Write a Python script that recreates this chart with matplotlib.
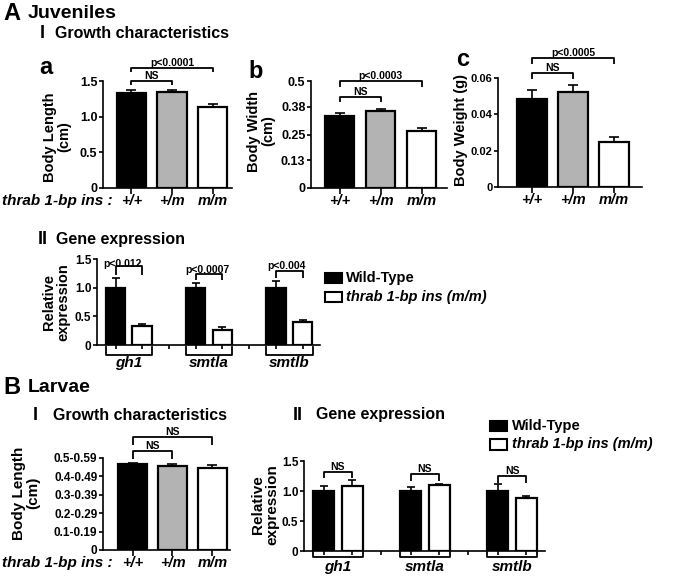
import matplotlib
matplotlib.use("Agg")
import matplotlib.pyplot as plt
from matplotlib.patches import Rectangle
import numpy as np

plt.rcParams["font.family"] = ["Liberation Sans", "DejaVu Sans"]
plt.rcParams["font.weight"] = "bold"
plt.rcParams["axes.linewidth"] = 1.2

W, H = 675, 580

# ---- data ----
genotypes = ["+/+", "+/m", "m/m"]
genotype_colors = ["black", "#b3b3b3", "white"]
genes = ["gh1", "smtla", "smtlb"]
legend_labels = ["Wild-Type", "thrab 1-bp ins (m/m)"]

juv_length = [1.33, 1.34, 1.14]
juv_length_err = [0.045, 0.03, 0.035]
juv_width = [0.338, 0.361, 0.268]
juv_width_err = [0.011, 0.010, 0.011]
juv_weight = [0.0483, 0.0521, 0.0248]
juv_weight_err = [0.0049, 0.0040, 0.0029]

juv_wt_expr = [1.0, 1.0, 1.0]
juv_wt_expr_err = [0.16, 0.09, 0.12]
juv_mut_expr = [0.33, 0.27, 0.40]
juv_mut_expr_err = [0.04, 0.04, 0.03]
juv_expr_p = ["p<0.012", "p<0.0007", "p<0.004"]

larv_length = [0.465, 0.459, 0.448]
larv_length_err = [0.007, 0.007, 0.016]
larv_length_ticks = [0, 0.1, 0.2, 0.3, 0.4, 0.5]
larv_length_ticklabels = ["0", "0.1-0.19", "0.2-0.29", "0.3-0.39", "0.4-0.49", "0.5-0.59"]

larv_wt_expr = [1.0, 1.0, 1.0]
larv_wt_expr_err = [0.08, 0.07, 0.11]
larv_mut_expr = [1.08, 1.10, 0.89]
larv_mut_expr_err = [0.11, 0.02, 0.02]

fig = plt.figure(figsize=(W / 100, H / 100), dpi=100)


def px_axes(x0, x1, y_top, y_bot):
    return fig.add_axes([x0 / W, 1 - y_bot / H, (x1 - x0) / W, (y_bot - y_top) / H])


def ftext(x, y, s, **kw):
    fig.text(x / W, 1 - y / H, s, **kw)


def fbox(x, y_top, w, h, color):
    fig.add_artist(Rectangle((x / W, 1 - (y_top + h) / H), w / W, h / H,
                             transform=fig.transFigure, facecolor=color,
                             edgecolor="black", linewidth=1.5))


def style_axes(ax, fs):
    for side in ("top", "right"):
        ax.spines[side].set_visible(False)
    ax.tick_params(axis="both", direction="out", length=3, width=1.2,
                   labelsize=fs, pad=1)


def bracket(ax, x1, x2, y, leg, label, fs=7.5, dx=0.0, dy=0.0, va="bottom"):
    ax.plot([x1, x1, x2, x2], [y - leg, y, y, y - leg], color="black",
            lw=1.3, clip_on=False, solid_capstyle="butt")
    ax.text((x1 + x2) / 2 + dx, y + dy, label, ha="center", va=va,
            fontsize=fs, clip_on=False)


def genotype_panel(ax, means, errs, xlim, ylim, fs):
    x = np.arange(len(means))
    ax.bar(x, means, width=0.72, color=genotype_colors, edgecolor="black",
           linewidth=1.6, zorder=2)
    ax.errorbar(x, means, yerr=[np.zeros(len(errs)), errs], fmt="none",
                ecolor="black", elinewidth=1.2, capsize=3.5, capthick=1.2, zorder=3)
    ax.set_xlim(*xlim)
    ax.set_ylim(*ylim)
    style_axes(ax, fs)
    ax.tick_params(axis="x", length=4, pad=0)
    ax.set_xticks(x)
    ax.set_xticklabels(genotypes, fontstyle="italic", fontsize=10.5)


def expression_panel(ax, wt, wt_err, mut, mut_err, xlim, under_y, label_y):
    g = np.arange(len(wt))
    off, w = 0.165, 0.24
    ax.bar(g - off, wt, width=w, color="black", edgecolor="black", linewidth=1.6, zorder=2)
    ax.bar(g + off, mut, width=w, color="white", edgecolor="black", linewidth=1.6, zorder=2)
    ax.errorbar(g - off, wt, yerr=[np.zeros(len(wt)), wt_err], fmt="none",
                ecolor="black", elinewidth=1.2, capsize=3, capthick=1.2, zorder=3)
    ax.errorbar(g + off, mut, yerr=[np.zeros(len(mut)), mut_err], fmt="none",
                ecolor="black", elinewidth=1.2, capsize=3, capthick=1.2, zorder=3)
    ax.set_xlim(*xlim)
    ax.set_ylim(0, 1.5)
    ax.set_yticks([0, 0.5, 1.0, 1.5])
    ax.set_yticklabels(["0", "0.5", "1.0", "1.5"])
    ax.set_xticks(np.concatenate([g - off, g + off, g[:-1] + 0.5]))
    ax.set_xticklabels([])
    style_axes(ax, 8.5)
    for i, gene in enumerate(genes):
        ax.plot([i - 0.29, i - 0.29, i + 0.29, i + 0.29],
                [under_y[0], under_y[1], under_y[1], under_y[0]],
                color="black", lw=1.3, clip_on=False)
        ax.text(i, label_y, gene, ha="center", va="center", fontsize=11,
                fontstyle="italic", clip_on=False)


# ---- section headers ----
ftext(3, 14, "A", fontsize=17, va="center")
ftext(28, 13, "Juveniles", fontsize=14, va="center")
ftext(40, 34, "I", fontsize=13, va="center")
ftext(55, 34, "Growth characteristics", fontsize=11.5, va="center")
ftext(38, 240, "II", fontsize=13, va="center")
ftext(56, 240, "Gene expression", fontsize=11.5, va="center")

ftext(3, 388, "B", fontsize=17, va="center")
ftext(28, 388, "Larvae", fontsize=14, va="center")
ftext(33, 415, "I", fontsize=13, va="center")
ftext(53, 415, "Growth characteristics", fontsize=11.5, va="center")
ftext(293, 415, "II", fontsize=13, va="center")
ftext(316, 415, "Gene expression", fontsize=11.5, va="center")

# ---- A-I a: body length ----
ax_a = px_axes(103, 232, 81, 188)
genotype_panel(ax_a, juv_length, juv_length_err, (-0.70, 2.48), (0, 1.5), 9)
ax_a.set_yticks([0, 0.5, 1.0, 1.5])
ax_a.set_yticklabels(["0", "0.5", "1.0", "1.5"])
bracket(ax_a, 0, 1, 1.505, 0.06, "NS")
bracket(ax_a, 0, 2, 1.68, 0.06, "p<0.0001")
ftext(46, 67, "a", fontsize=17, ha="center", va="center")
ftext(57, 137, "Body Length\n(cm)", fontsize=10.5, rotation=90,
      ha="center", va="center", linespacing=1.0)
ftext(2, 201, "thrab 1-bp ins :", fontsize=11, fontstyle="italic", va="center")

# ---- A-I b: body width ----
ax_b = px_axes(311, 447, 81, 188)
genotype_panel(ax_b, juv_width, juv_width_err, (-0.70, 2.62), (0, 0.5), 9)
ax_b.set_yticks([0, 0.13, 0.25, 0.38, 0.5])
ax_b.set_yticklabels(["0", "0.13", "0.25", "0.38", "0.5"])
bracket(ax_b, 0, 1, 0.427, 0.025, "NS")
bracket(ax_b, 0, 2, 0.50, 0.03, "p<0.0003")
ftext(256, 71, "b", fontsize=17, ha="center", va="center")
ftext(261, 131, "Body Width\n(cm)", fontsize=10.5, rotation=90,
      ha="center", va="center", linespacing=1.0)

# ---- A-I c: body weight ----
ax_c = px_axes(498, 642, 78, 187)
genotype_panel(ax_c, juv_weight, juv_weight_err, (-0.83, 2.68), (0, 0.06), 8)
ax_c.set_yticks([0, 0.02, 0.04, 0.06])
ax_c.set_yticklabels(["0", "0.02", "0.04", "0.06"])
bracket(ax_c, 0, 1, 0.0629, 0.0035, "NS")
bracket(ax_c, 0, 2, 0.0708, 0.0033, "p<0.0005")
ftext(463, 60, "c", fontsize=17, ha="center", va="center")
ftext(461, 130, "Body Weight (g)", fontsize=10.5, rotation=90,
      ha="center", va="center")

# ---- A-II gene expression ----
ax_e = px_axes(97, 320, 259, 345)
expression_panel(ax_e, juv_wt_expr, juv_wt_expr_err, juv_mut_expr,
                 juv_mut_expr_err, (-0.396, 2.383), (-0.035, -0.175), -0.31)
bracket(ax_e, -0.165, 0.165, 1.37, 0.15, juv_expr_p[0], dx=-0.08, dy=0.04, va="center")
bracket(ax_e, 0.835, 1.165, 1.24, 0.11, juv_expr_p[1], dx=-0.02, dy=0.07, va="center")
bracket(ax_e, 1.835, 2.165, 1.29, 0.12, juv_expr_p[2], dx=-0.03, dy=0.09, va="center")
ftext(56, 302, "Relative\nexpression", fontsize=10.5, rotation=90,
      ha="center", va="center", linespacing=1.0)

fbox(325, 273, 17, 10, "black")
fbox(325, 292, 17, 10, "white")
ftext(346, 278, legend_labels[0], fontsize=10.5, va="center")
ftext(346, 297, legend_labels[1], fontsize=10.5, va="center", fontstyle="italic")

# ---- B-I larval body length ----
ax_l = px_axes(103, 230, 458, 550)
genotype_panel(ax_l, larv_length, larv_length_err, (-0.74, 2.44), (0, 0.5), 8.5)
ax_l.set_yticks(larv_length_ticks)
ax_l.set_yticklabels(larv_length_ticklabels)
bracket(ax_l, 0, 1, 0.539, 0.043, "NS")
bracket(ax_l, 0, 2, 0.616, 0.043, "NS")
ftext(26, 493, "Body Length\n(cm)", fontsize=11, rotation=90,
      ha="center", va="center", linespacing=1.0)
ftext(2, 563, "thrab 1-bp ins :", fontsize=11, fontstyle="italic", va="center")

# ---- B-II larval gene expression ----
ax_m = px_axes(304, 545, 461, 551)
expression_panel(ax_m, larv_wt_expr, larv_wt_expr_err, larv_mut_expr,
                 larv_mut_expr_err, (-0.39, 2.379), (-0.01, -0.1), -0.26)
bracket(ax_m, -0.165, 0.165, 1.32, 0.11, "NS")
bracket(ax_m, 0.835, 1.165, 1.29, 0.12, "NS")
bracket(ax_m, 1.835, 2.165, 1.25, 0.12, "NS")
ftext(265, 505, "Relative\nexpression", fontsize=11, rotation=90,
      ha="center", va="center", linespacing=1.0)

fbox(490, 421, 17, 10, "black")
fbox(490, 439, 17, 11, "white")
ftext(512, 426, legend_labels[0], fontsize=10.5, va="center")
ftext(512, 444, legend_labels[1], fontsize=10.5, va="center", fontstyle="italic")

fig.savefig("out.png", dpi=100)
